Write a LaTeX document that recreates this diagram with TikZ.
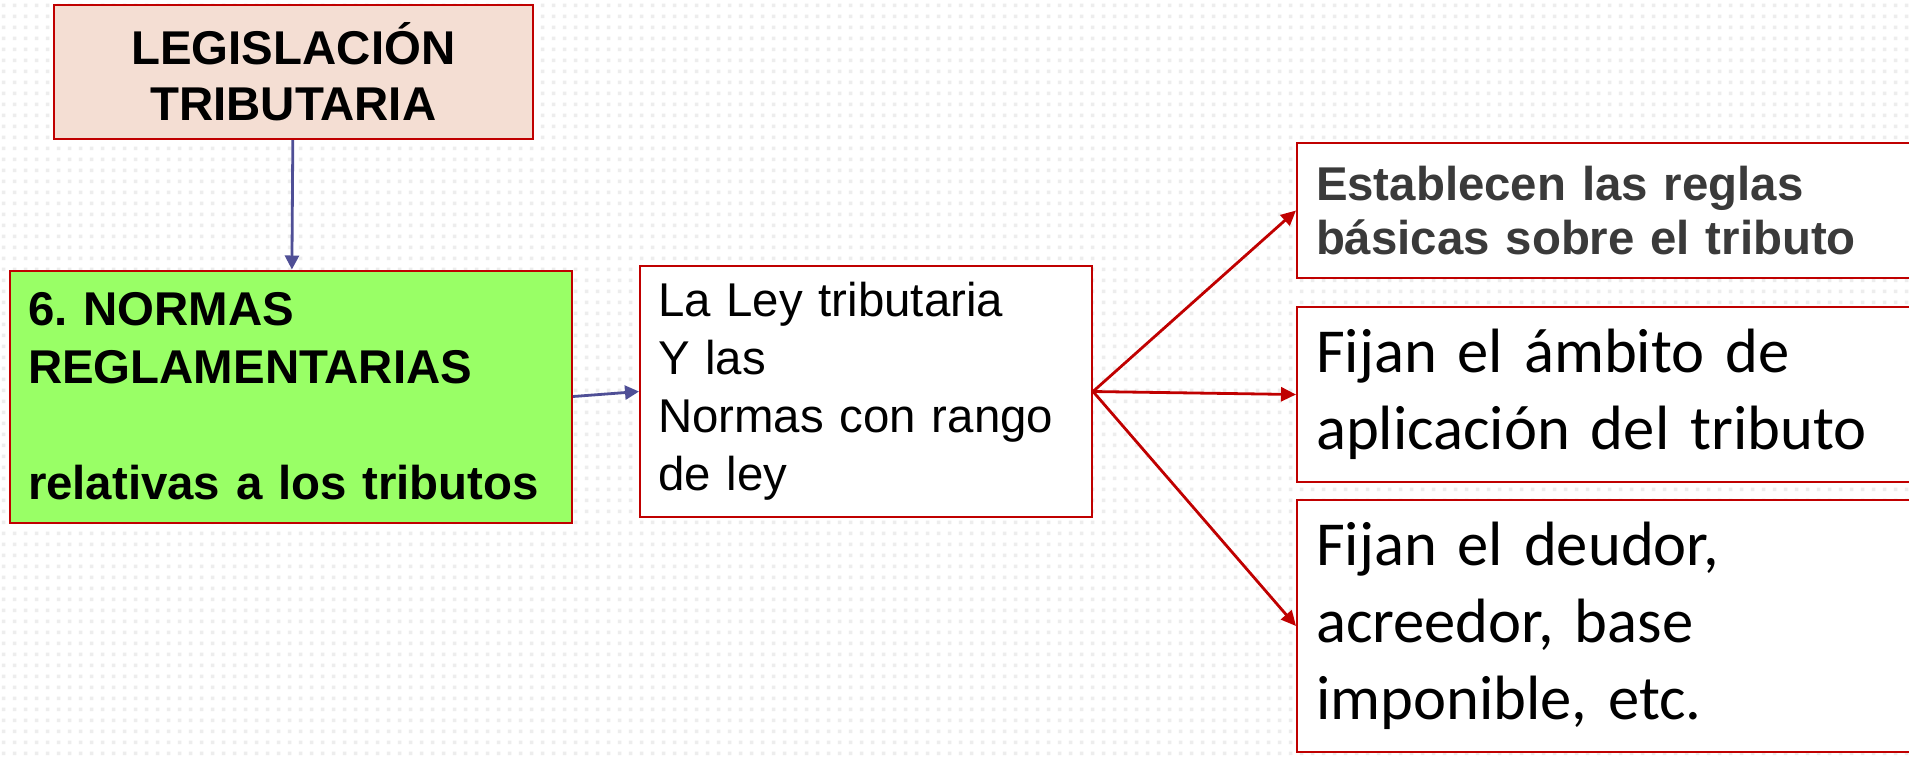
\documentclass[tikz,border=0pt]{standalone}
\usepackage{fontspec}
\setmainfont{Liberation Sans}
\newfontfamily\carlito{Carlito}
\usepackage{tikz}
\usetikzlibrary{arrows.meta,patterns.meta}
\definecolor{boxred}{HTML}{C00000}
\definecolor{peachfill}{HTML}{F4DED3}
\definecolor{limefill}{HTML}{99FF66}
\definecolor{navyline}{HTML}{4F4F96}
\definecolor{darktext}{HTML}{3A3A3A}
\pgfdeclarepattern{
  name=bgdots, type=uncolored,
  bottom left={\pgfpoint{0pt}{0pt}}, top right={\pgfpoint{5.5pt}{5.5pt}},
  tile size={\pgfpoint{5.5pt}{5.5pt}},
  code={\pgfpathrectangle{\pgfpoint{1.5pt}{1.5pt}}{\pgfpoint{2pt}{2pt}}\pgfusepath{fill}}
}
\frenchspacing

\begin{document}
\begin{tikzpicture}[
    x=0.5pt, y=-0.5pt,
    box/.style={draw=boxred, line width=1pt, fill=white, inner xsep=9pt, inner ysep=0pt},
    arial/.style={font=\fontsize{23.7}{29}\selectfont},
    arialbold/.style={font=\fontsize{23.7}{29}\selectfont\bfseries},
    calib/.style={font=\carlito\fontsize{31.3}{38.5}\selectfont},
    navyflow/.style={-{Triangle[length=7pt,width=7pt]}, line width=1.4pt, draw=navyline},
    redflow/.style={-{Triangle[length=7.5pt,width=7pt]}, line width=1.4pt, draw=boxred}
]
\path[use as bounding box, clip] (0,0) rectangle (1909,757);
\fill[white] (0,0) rectangle (1909,757);
\fill[pattern=bgdots, pattern color=black!7] (0,0) rectangle (1909,757);

\node[box, fill=peachfill, arialbold, font=\fontsize{23.7}{28}\selectfont\bfseries, align=center,
      minimum width=239.7pt, minimum height=67pt] (leg) at (293.3,72) {LEGISLACIÓN\\TRIBUTARIA};
\node[box, fill=limefill, arialbold, align=left, text width=263pt,
      minimum height=126pt] (norms) at (291,396.5) {6. NORMAS\\REGLAMENTARIAS\\[29pt]relativas a los tributos};
\node[box, arial, align=left, text width=208pt,
      minimum height=125.5pt] (ley) at (866,391.5) {La Ley tributaria\\Y las\\Normas con rango\\de ley};

\node[box, arialbold, font=\fontsize{23.7}{27}\selectfont\bfseries, text=darktext, align=left,
      inner xsep=9.5pt, text width=297.5pt, minimum height=67.5pt] (rules) at (1613.5,210.5) {Establecen las reglas\\básicas sobre el tributo};
\node[box, calib, align=left, inner xsep=9.5pt, text width=297.5pt,
      minimum height=87.5pt] (scope) at (1613.5,394.5) {Fijan el ámbito de\\aplicación del tributo};
\node[box, calib, align=left, inner xsep=9.5pt, text width=297.5pt,
      minimum height=126pt] (debtor) at (1613.5,626) {Fijan el deudor,\\acreedor, base\\imponible, etc.};

\draw[navyflow] (leg) -- (norms);
\draw[navyflow] (norms.east) -- (ley.west);
\draw[redflow] (ley.east) -- (rules.west);
\draw[redflow] (ley.east) -- (scope.west);
\draw[redflow] (ley.east) -- (debtor.west);
\end{tikzpicture}
\end{document}
